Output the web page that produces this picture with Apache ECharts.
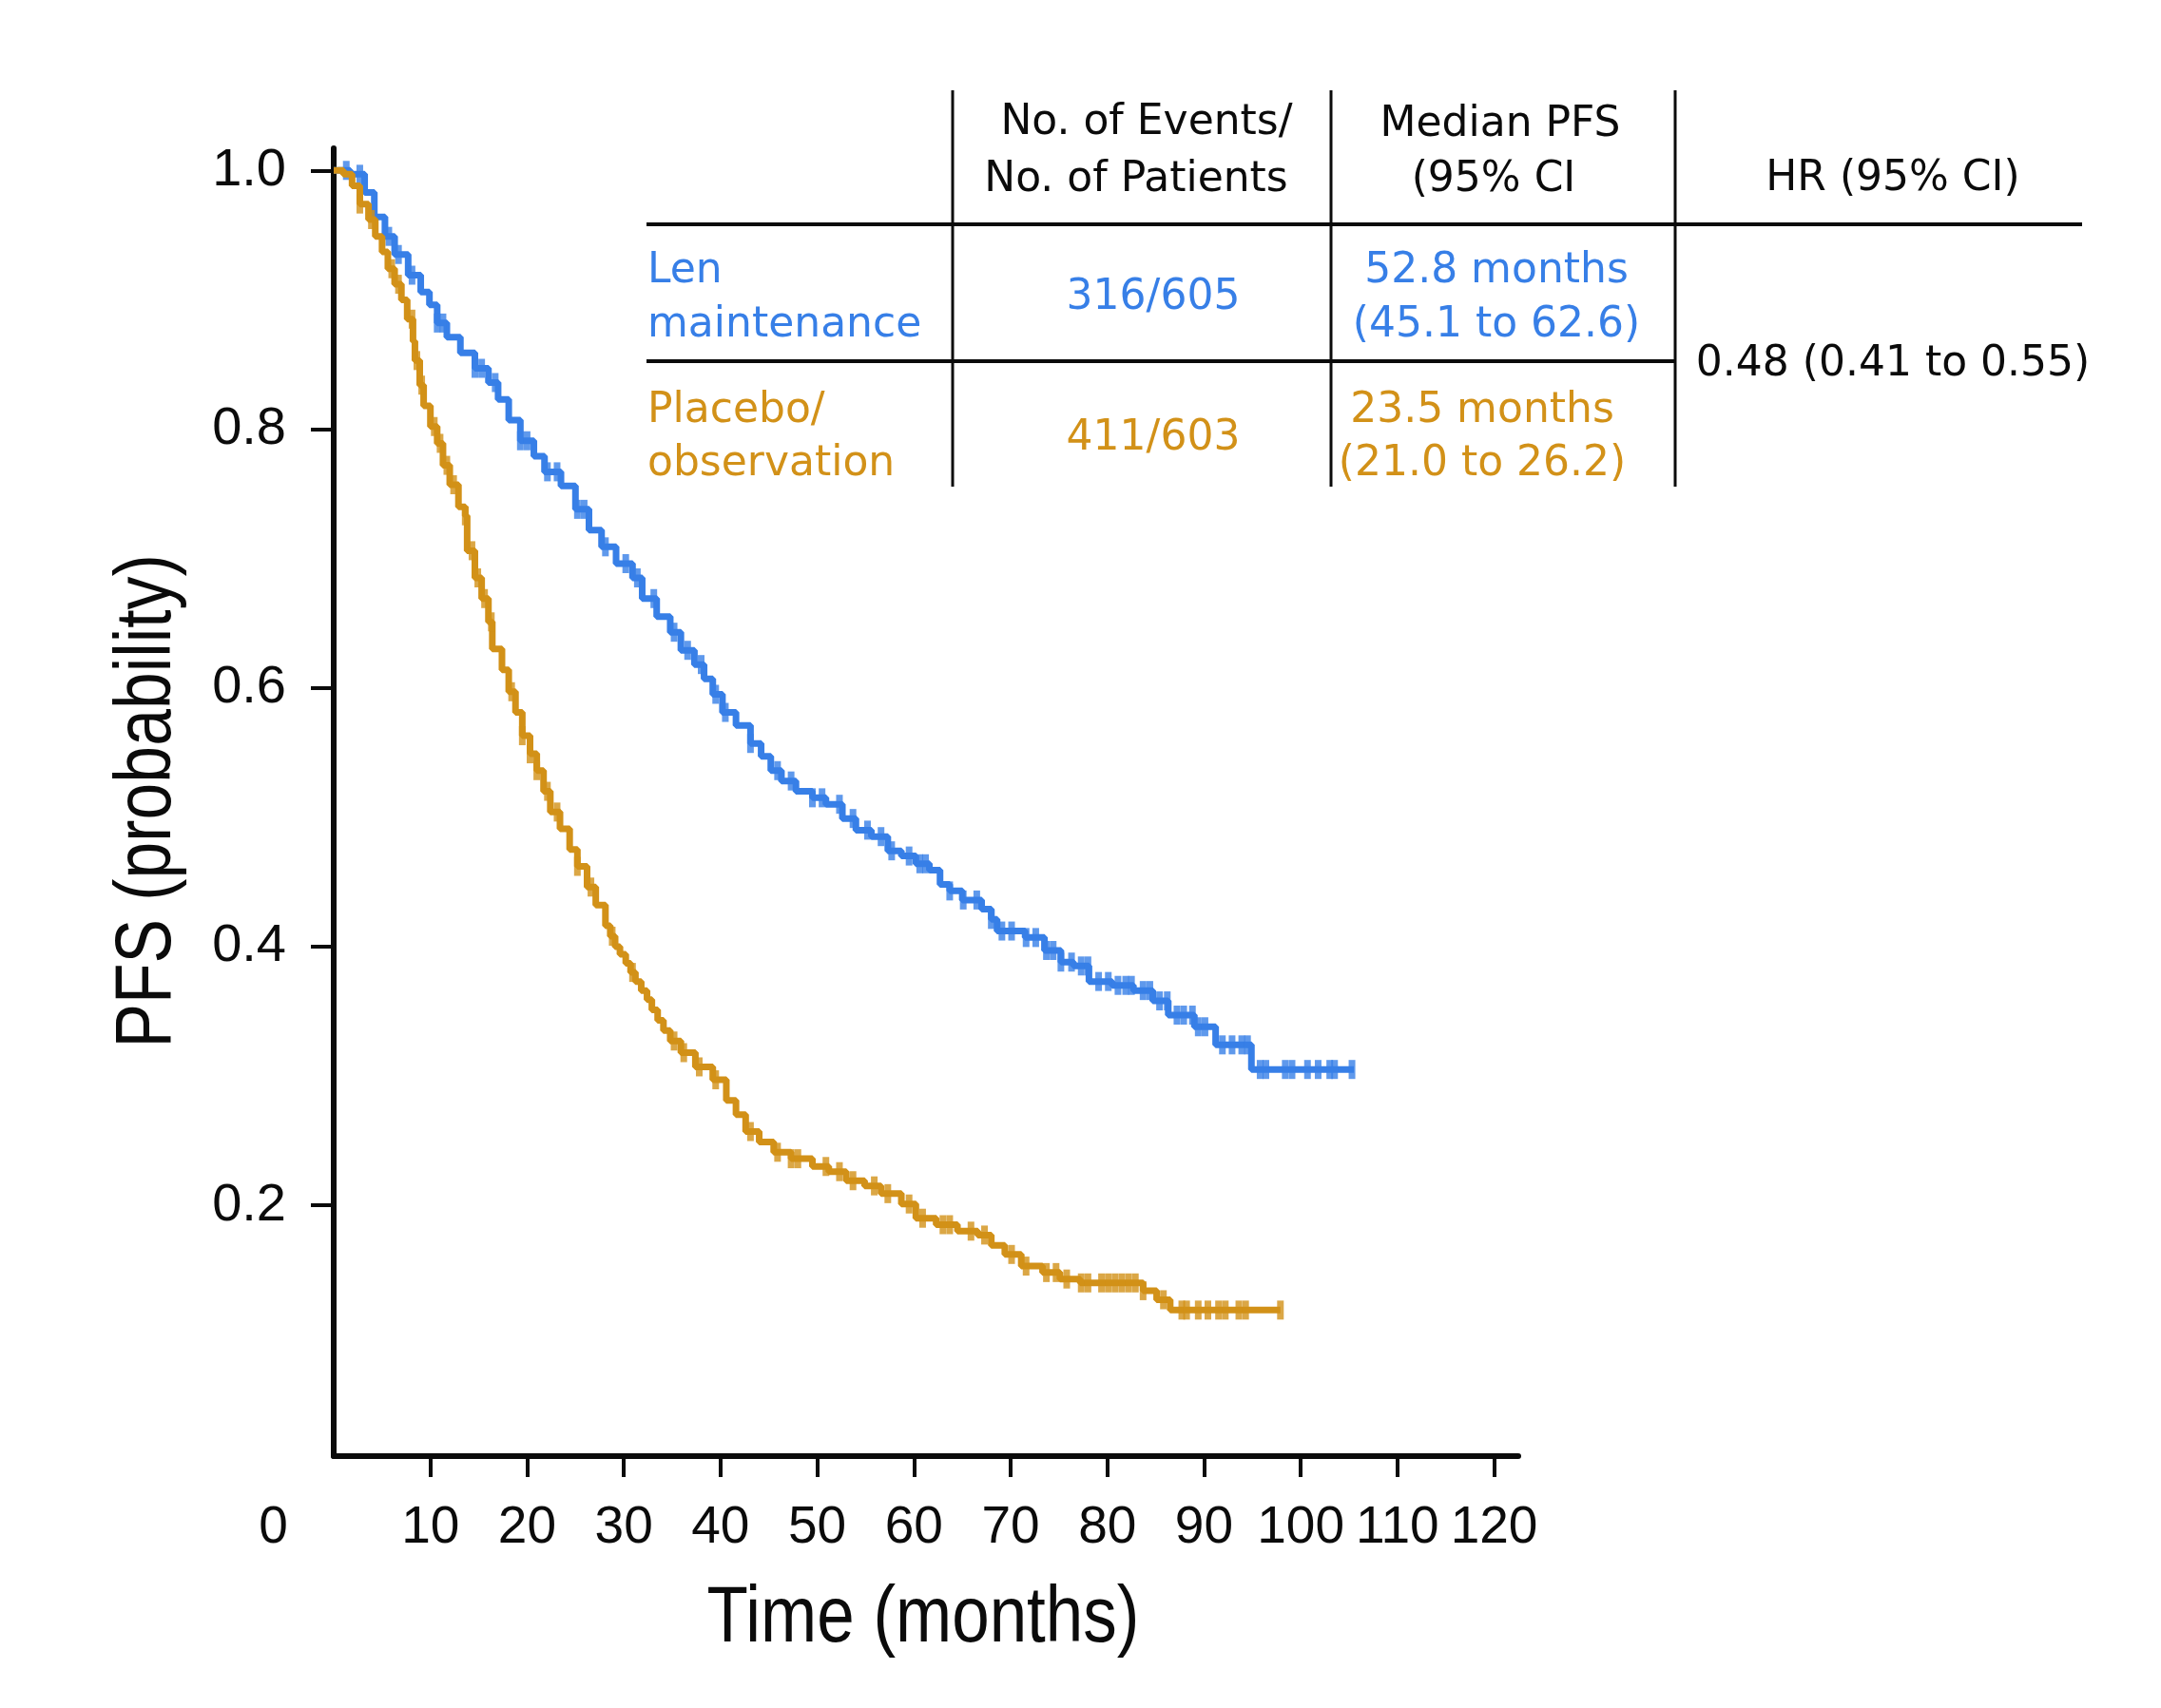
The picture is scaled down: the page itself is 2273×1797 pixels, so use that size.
<!DOCTYPE html>
<html><head><meta charset="utf-8">
<script src="https://cdn.jsdelivr.net/npm/echarts@6/dist/echarts.min.js"></script>
<style>html,body{margin:0;padding:0;background:#fff}#c{width:2273px;height:1797px}</style>
</head><body><div id="c"></div>
<script>
// ---- data ----
const lenTimes = [0,1.7,3.2,4.2,5.3,6.3,7.7,9.0,9.9,10.7,11.7,13.1,14.6,16.0,17.0,18.1,19.3,20.7,21.8,23.5,25.0,26.4,27.7,29.2,30.9,31.9,33.4,34.8,35.9,37.3,38.3,39.2,40.2,41.6,43.1,44.2,45.2,46.3,47.8,49.5,50.9,52.6,54.0,55.6,57.3,58.7,60.2,61.6,62.7,63.7,65.0,67.0,68.0,68.6,71.5,73.5,75.2,76.5,78.1,80.5,82.7,84.7,86.3,89.0,91.2,94.9,105.5];
const lenSurv  = [1,0.997,0.983,0.964,0.949,0.935,0.919,0.906,0.896,0.882,0.871,0.859,0.847,0.836,0.823,0.807,0.791,0.779,0.767,0.756,0.738,0.722,0.709,0.696,0.685,0.669,0.655,0.643,0.629,0.618,0.607,0.595,0.581,0.571,0.557,0.547,0.536,0.528,0.520,0.515,0.510,0.499,0.490,0.485,0.474,0.470,0.464,0.459,0.448,0.443,0.436,0.429,0.421,0.412,0.407,0.397,0.388,0.385,0.373,0.370,0.366,0.358,0.347,0.338,0.324,0.305,0.305];
const lenCensor = [1.3,2.7,5.7,6.7,8.1,10.7,11.3,14.6,15.3,16.7,19.3,20.0,22.1,23.1,25.2,25.9,28.1,30.2,31.4,33.1,35.2,36.6,38.0,39.5,40.5,43.1,45.9,47.3,49.5,50.5,52.3,53.7,55.2,56.6,57.7,59.5,60.6,61.2,63.7,65.1,66.5,68.0,69.1,70.1,71.6,72.6,73.7,74.4,75.2,76.3,77.3,78.0,79.1,80.1,81.1,81.9,82.5,83.7,84.4,85.4,86.2,87.2,87.9,88.8,89.4,90.1,91.9,92.9,93.9,94.5,95.8,96.4,98.4,99.1,100.7,101.8,103.0,103.5,105.3];

const plaTimes = [0,1.0,1.9,2.7,3.6,4.3,5.0,5.6,6.3,7.0,7.6,8.2,8.4,8.9,9.3,10.0,10.7,11.3,12.0,12.9,13.6,13.8,14.6,15.3,16.0,16.4,17.4,18.1,18.8,19.5,20.3,21.0,21.7,22.4,23.4,24.4,25.2,26.2,27.1,28.1,28.6,29.1,29.6,30.2,30.7,31.2,31.8,32.4,32.9,33.5,34.1,34.8,35.9,37.4,39.2,40.6,41.6,42.6,44.0,45.5,47.3,49.5,51.2,53.0,54.9,56.6,58.7,60.2,62.3,64.5,66.6,68.0,69.4,71.1,73.3,75.1,77.2,83.7,85.1,86.5,97.9];
const plaSurv  = [1,0.997,0.988,0.974,0.962,0.949,0.937,0.924,0.912,0.900,0.885,0.868,0.853,0.834,0.818,0.802,0.789,0.772,0.757,0.740,0.733,0.706,0.685,0.669,0.651,0.630,0.614,0.597,0.581,0.563,0.549,0.536,0.520,0.504,0.491,0.475,0.462,0.446,0.432,0.416,0.408,0.400,0.394,0.387,0.380,0.373,0.366,0.359,0.351,0.343,0.335,0.327,0.318,0.307,0.297,0.281,0.270,0.257,0.249,0.241,0.236,0.230,0.226,0.219,0.215,0.209,0.201,0.190,0.185,0.180,0.177,0.169,0.162,0.153,0.148,0.143,0.140,0.134,0.127,0.119,0.119];
const plaCensor = [2.7,3.9,6.0,6.7,8.1,8.6,9.1,10.4,11.0,11.7,12.4,13.6,14.3,14.9,15.6,16.3,18.4,19.5,20.3,21.0,22.1,23.1,25.2,26.6,28.8,30.9,35.2,36.2,37.8,39.5,43.1,45.9,47.3,48.0,50.9,52.3,53.7,55.9,57.3,59.5,60.9,63.0,63.7,65.9,67.3,70.1,71.6,73.7,74.7,75.8,77.3,78.0,79.4,80.1,80.8,81.5,82.2,82.9,83.7,85.8,87.7,88.2,89.4,90.4,91.5,92.2,93.6,94.3,97.9];

const xTickValues  = [10,20,30,40,50,60,70,80,90,100,110,120];
const xLabelValues = [0,10,20,30,40,50,60,70,80,90,100,110,120];
const yTickValues  = [0.2,0.4,0.6,0.8,1.0];

const seriesNames = ['Len maintenance','Placebo/observation'];
const xTitle = 'Time (months)';
const yTitle = 'PFS (probability)';
const tableHeader = ['No. of Events/','No. of Patients','Median PFS','(95% CI','HR (95% CI)'];
const lenRow = ['Len','maintenance','316/605','52.8 months','(45.1 to 62.6)'];
const plaRow = ['Placebo/','observation','411/603','23.5 months','(21.0 to 26.2)'];
const hrText = '0.48 (0.41 to 0.55)';

// ---- build ----
const BLUE = '#377FE7', ORANGE = '#D29118', INK = '#0b0b0b';
function stepVal(times, surv, t){ let v = surv[0]; for (let i=0;i<times.length;i++){ if (times[i] <= t) v = surv[i]; else break; } return v; }
const pairs = (a,b)=>a.map((t,i)=>[t,b[i]]);
const cens = (c,a,b)=>c.map(t=>[t, stepVal(a,b,t)]);

const tFont = '"DejaVu Sans", sans-serif';
const TFS = 44;
function txt(s, x, y, color, align){ return {type:'text', x:x, y:y, silent:true, style:{text:s, fill:color, fontSize:TFS, fontFamily:tFont, align:align||'center', verticalAlign:'middle', textAlign:align||'center', textVerticalAlign:'middle'}}; }
function ln(x1,y1,x2,y2,w){ return {type:'line', silent:true, shape:{x1:x1,y1:y1,x2:x2,y2:y2}, style:{stroke:INK, lineWidth:w}}; }
function title(s, x, y, rot, sx){ return {type:'text', x:x, y:y, rotation:rot, scaleX:sx, silent:true, style:{text:s, fill:INK, fontSize:84, fontFamily:'"Liberation Sans", Arial, sans-serif', align:'center', verticalAlign:'middle', textAlign:'center', textVerticalAlign:'middle'}}; }

const chart = echarts.init(document.getElementById('c'), null, {renderer:'canvas'});
chart.setOption({
  animation:false,
  backgroundColor:'#fff',
  grid:{left:351, top:156, width:1246, height:1376, containLabel:false},
  xAxis:{type:'value', min:0, max:122.5,
    axisLine:{onZero:false, lineStyle:{color:INK, width:6}},
    axisTick:{show:true, inside:false, length:22, lineStyle:{color:INK, width:4}, customValues:xTickValues},
    axisLabel:{show:true, margin:48, fontSize:55, fontFamily:'"Liberation Sans", Arial, sans-serif', color:INK, customValues:xLabelValues,
      formatter:function(v){ return v===0 ? '{z|0}' : String(v); },
      rich:{z:{fontSize:55, fontFamily:'"Liberation Sans", Arial, sans-serif', color:INK, padding:[0,127,0,0]}}},
    splitLine:{show:false}},
  yAxis:{type:'value', min:0.0061, max:1.0171,
    axisLine:{onZero:false, lineStyle:{color:INK, width:6}},
    axisTick:{show:true, inside:false, length:24, lineStyle:{color:INK, width:4}, customValues:yTickValues},
    axisLabel:{show:true, margin:50, fontSize:56, fontFamily:'"Liberation Sans", Arial, sans-serif', color:INK, customValues:yTickValues,
      formatter:function(v){ return v.toFixed(1); }},
    splitLine:{show:false}},
  series:[
    {name:seriesNames[0], type:'line', step:'end', data:pairs(lenTimes,lenSurv), showSymbol:false, symbol:'none', lineStyle:{color:BLUE, width:7}, z:2},
    {name:seriesNames[0]+' censored', type:'scatter', data:cens(lenCensor,lenTimes,lenSurv), symbol:'rect', symbolSize:[7,20], itemStyle:{color:BLUE}, z:3},
    {name:seriesNames[1], type:'line', step:'end', data:pairs(plaTimes,plaSurv), showSymbol:false, symbol:'none', lineStyle:{color:ORANGE, width:7}, z:4},
    {name:seriesNames[1]+' censored', type:'scatter', data:cens(plaCensor,plaTimes,plaSurv), symbol:'rect', symbolSize:[7,20], itemStyle:{color:ORANGE}, z:5}
  ],
  graphic:[
    title(xTitle, 971, 1704, 0, 0.845),
    title(yTitle, 156, 843, Math.PI/2, 0.83),
    ln(1002,95,1002,512,3), ln(1400,95,1400,512,3), ln(1762,95,1762,512,3),
    ln(680,236,2190,236,4), ln(680,380,1762,380,4),
    txt(tableHeader[0],1206,130,INK), txt(tableHeader[1],1195,190,INK),
    txt(tableHeader[2],1578,132,INK), txt(tableHeader[3],1571,190,INK),
    txt(tableHeader[4],1991,189,INK),
    txt(lenRow[0],681,286,BLUE,'left'), txt(lenRow[1],681,343,BLUE,'left'),
    txt(lenRow[2],1213,314,BLUE), txt(lenRow[3],1574,286,BLUE), txt(lenRow[4],1574,343,BLUE),
    txt(plaRow[0],681,433,ORANGE,'left'), txt(plaRow[1],681,489,ORANGE,'left'),
    txt(plaRow[2],1213,462,ORANGE), txt(plaRow[3],1559,433,ORANGE), txt(plaRow[4],1559,489,ORANGE),
    txt(hrText,1991,384,INK)
  ]
});
</script></body></html>
